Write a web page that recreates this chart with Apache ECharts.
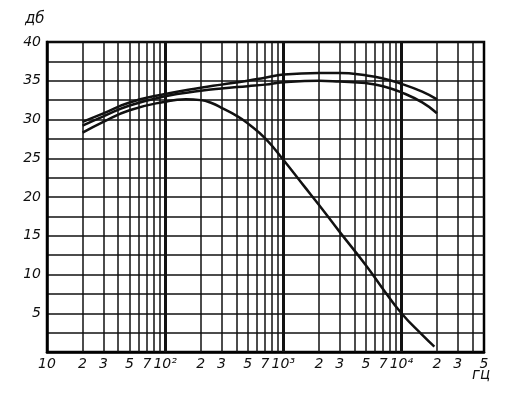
<!DOCTYPE html>
<html><head><meta charset="utf-8">
<script src="https://cdn.jsdelivr.net/npm/echarts@6/dist/echarts.min.js"></script>
<style>html,body{margin:0;padding:0;background:#fff}#c{width:511px;height:393px}</style>
</head><body><div id="c"></div><script>
// minor grid frequencies (Hz) and decade lines
const gridFreqs = [20,30,40,50,60,70,80,90,200,300,400,500,600,700,800,900,2000,3000,4000,5000,6000,7000,8000,9000,20000,30000,40000];
const decadeFreqs = [100,1000,10000];
// x tick labels
const tickFreqs = [10,20,30,50,70,100,200,300,500,700,1000,2000,3000,5000,7000,10000,20000,30000,50000];
const tickLabels = ['10','2','3','5','7','10²','2','3','5','7','10³','2','3','5','7','10⁴','2','3','5'];
// upper two curves
const freqUpper = [20,30,50,100,200,300,500,700,1000,2000,3000,5000,7000,10000,15000,20000];
const dbTop = [29.7,30.8,32.2,33.3,34.1,34.5,35.0,35.4,35.8,36.0,36.0,35.7,35.3,34.6,33.6,32.6];
const dbMid = [29.2,30.4,31.8,33.0,33.7,34.0,34.3,34.5,34.8,35.0,34.9,34.7,34.3,33.5,32.2,30.8];
// lower (falling) curve
const freqLower = [20,30,50,100,150,200,250,300,400,500,700,1000,1500,2000,3000,5000,7000,10000,15000,19000];
const dbLow = [28.3,29.7,31.2,32.3,32.6,32.5,32.1,31.5,30.5,29.5,27.6,24.8,21.4,19.0,15.5,11.2,8.1,5.0,2.2,0.7];

const FONT = 'DejaVu Sans';
const ink = '#111';
const zip = (xs, ys) => xs.map((x, i) => [x, ys[i]]);

const chart = echarts.init(document.getElementById('c'), null, {renderer: 'canvas'});
const curve = (name, xs, ys) => ({
  name, type: 'line', data: zip(xs, ys), smooth: 0.5, symbol: 'none', z: 5,
  lineStyle: {color: ink, width: 2.5}
});
chart.setOption({
  backgroundColor: '#fff',
  animation: false,
  grid: {left: 47, right: 27, top: 42, bottom: 41, show: true, borderColor: '#000', borderWidth: 2.5, backgroundColor: 'transparent'},
  xAxis: {
    type: 'log', logBase: 10, min: 10, max: 50000,
    axisLine: {show: true, lineStyle: {color: '#000', width: 2.5}},
    axisTick: {show: false}, axisLabel: {show: false}, splitLine: {show: false}
  },
  yAxis: {
    type: 'value', min: 0, max: 40, interval: 2.5,
    axisLine: {show: true, lineStyle: {color: '#000', width: 2.5}},
    axisTick: {show: false},
    axisLabel: {
      margin: 6, color: ink, fontFamily: FONT, fontStyle: 'italic', fontSize: 14,
      formatter: v => (v > 0 && v % 5 === 0) ? String(v) : ''
    },
    splitLine: {show: true, lineStyle: {color: ink, width: 1.5}}
  },
  graphic: [
    {type: 'text', left: 25, top: 12, style: {text: 'дб', font: 'italic 15px "DejaVu Sans"', fill: ink}},
    {type: 'text', left: 472, top: 368, style: {text: 'гц', font: 'italic 15px "DejaVu Sans"', fill: ink}}
  ],
  series: [
    {
      name: 'grid', type: 'line', data: [], symbol: 'none', z: 1, silent: true,
      markLine: {
        silent: true, symbol: ['none', 'none'], animation: false,
        label: {show: false},
        data: gridFreqs.map(f => ({xAxis: f, lineStyle: {color: ink, width: 1.5, type: 'solid'}}))
          .concat(decadeFreqs.map(f => ({xAxis: f, lineStyle: {color: ink, width: 3, type: 'solid'}})))
      }
    },
    {
      name: 'ticks', type: 'line', data: [], symbol: 'none', z: 1, silent: true,
      markLine: {
        silent: true, symbol: ['none', 'none'], animation: false,
        lineStyle: {color: 'rgba(0,0,0,0)', width: 0},
        label: {show: true, position: 'start', formatter: '{b}', distance: 5,
          color: ink, fontFamily: FONT, fontStyle: 'italic', fontSize: 14},
        data: tickFreqs.map((f, i) => ({xAxis: f, name: tickLabels[i]}))
      }
    },
    curve('top', freqUpper, dbTop),
    curve('mid', freqUpper, dbMid),
    curve('low', freqLower, dbLow)
  ]
});
</script></body></html>
